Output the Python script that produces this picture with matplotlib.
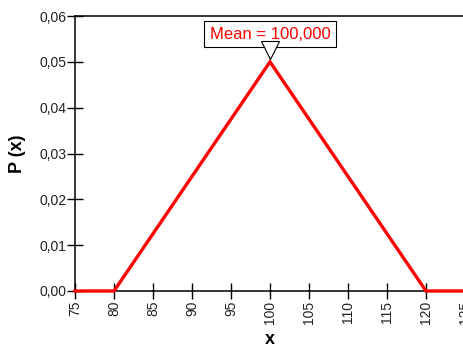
import matplotlib
matplotlib.use("Agg")
import matplotlib.pyplot as plt
from matplotlib.ticker import FuncFormatter

plt.rcParams['font.family'] = ['Liberation Sans', 'DejaVu Sans']

# Triangular distribution, min 80 / mode 100 / max 120
x_vals = [75, 80, 100, 120, 125]
p_vals = [0.0, 0.0, 0.05, 0.0, 0.0]
mean_val = 100
mean_label = "Mean = 100,000"
x_ticks = list(range(75, 130, 5))
y_ticks = [0.00, 0.01, 0.02, 0.03, 0.04, 0.05, 0.06]

fig = plt.figure(figsize=(4.64, 3.47), dpi=100)
ax = fig.add_axes([75 / 464, 56 / 347, 390 / 464, 275 / 347])

ax.plot(x_vals, p_vals, color="red", lw=2.4, solid_joinstyle="miter", clip_on=False, zorder=3)

ax.set_xlim(75, 125)
ax.set_ylim(0, 0.06)
ax.set_xticks(x_ticks)
ax.set_yticks(y_ticks)
ax.yaxis.set_major_formatter(FuncFormatter(lambda v, _: f"{v:.2f}".replace(".", ",")))
ax.tick_params(axis="x", direction="inout", length=12, width=1, rotation=90,
               labelsize=10, labelcolor="#222222", pad=1)
ax.tick_params(axis="y", direction="inout", length=12, width=1,
               labelsize=10, labelcolor="#222222", pad=0)
ax.spines["right"].set_visible(False)
for s in ["left", "top", "bottom"]:
    ax.spines[s].set_linewidth(1.1)

ax.set_xlabel("x", fontsize=13, fontweight="bold", va="center")
ax.xaxis.set_label_coords(0.5, -0.177)
ax.set_ylabel("P (x)", fontsize=13, fontweight="bold", va="center")
ax.yaxis.set_label_coords(-0.147, 0.5)

# mean callout box and marker
ax.text(mean_val, 0.05605, mean_label, color="red", fontsize=12, ha="center", va="center",
        bbox=dict(boxstyle="square,pad=0.32", facecolor="white", edgecolor="black", lw=0.8),
        zorder=4)
ax.plot([mean_val], [0.0525], marker="v", markersize=13, markerfacecolor="white",
        markeredgecolor="black", markeredgewidth=0.8, zorder=5, clip_on=False)

fig.savefig("out.png", dpi=100)
